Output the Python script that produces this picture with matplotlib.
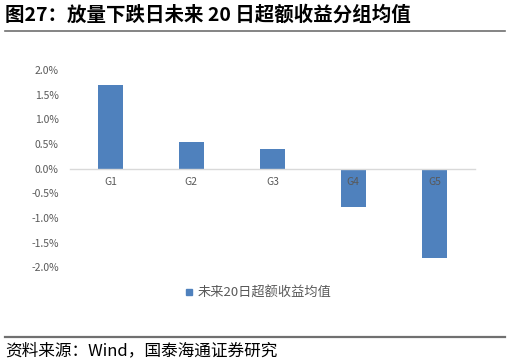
"""Bar chart: 20-day excess return by group after volume-up decline days."""

import matplotlib
matplotlib.use("Agg")
import matplotlib.pyplot as plt
from matplotlib.lines import Line2D
from matplotlib.ticker import FuncFormatter

plt.rcParams["font.family"] = ["Noto Sans CJK SC", "DejaVu Sans"]

groups = ["G1", "G2", "G3", "G4", "G5"]
excess_return = [0.0170, 0.0053, 0.0039, -0.0077, -0.0181]
y_ticks = [-0.02, -0.015, -0.01, -0.005, 0.0, 0.005, 0.01, 0.015, 0.02]

title = "图27：放量下跌日未来 20 日超额收益分组均值"
series_name = "未来20日超额收益均值"
source = "资料来源：Wind，国泰海通证券研究"

BLUE = "#4F81BD"
GRAY = "#595959"


def main() -> None:
    fig = plt.figure(figsize=(5.1, 3.64), dpi=100)
    ax = fig.add_axes([0.137, 0.266, 0.794, 0.542])

    x = range(len(groups))
    ax.bar(x, excess_return, width=0.31, color=BLUE, label=series_name, zorder=1)

    ax.set_xlim(-0.5, len(groups) - 0.5)
    ax.set_ylim(-0.02, 0.02)
    ax.set_yticks(y_ticks)
    ax.yaxis.set_major_formatter(FuncFormatter(lambda v, _: f"{v * 100:.1f}%"))
    ax.set_xticks(list(x))
    ax.set_xticklabels(groups)

    for side in ("top", "right", "left"):
        ax.spines[side].set_visible(False)
    ax.spines["bottom"].set_position(("data", 0))
    ax.spines["bottom"].set_color("#D9D9D9")
    ax.spines["bottom"].set_linewidth(1.0)
    ax.tick_params(axis="both", length=0, labelsize=7.5, labelcolor=GRAY)
    ax.tick_params(axis="x", pad=6)
    ax.tick_params(axis="y", pad=8)
    ax.xaxis.set_zorder(3)

    handle = Line2D([], [], marker="s", color=BLUE, linestyle="none", markersize=5)
    fig.legend([handle], [series_name], loc="center", bbox_to_anchor=(0.505, 0.195),
               frameon=False, fontsize=9.5, labelcolor=GRAY, handletextpad=0.2,
               handlelength=0.8)

    fig.text(0.01, 0.958, title, fontsize=14, fontweight="bold", va="center", ha="left")
    fig.add_artist(Line2D([0.01, 0.99], [0.915, 0.915], color="#707070", lw=1.2))
    fig.add_artist(Line2D([0.01, 0.99], [0.074, 0.074], color="#707070", lw=1.6))
    fig.text(0.01, 0.035, source, fontsize=12, va="center", ha="left")

    fig.savefig("out.png", dpi=100)
    plt.close(fig)


if __name__ == "__main__":
    main()
